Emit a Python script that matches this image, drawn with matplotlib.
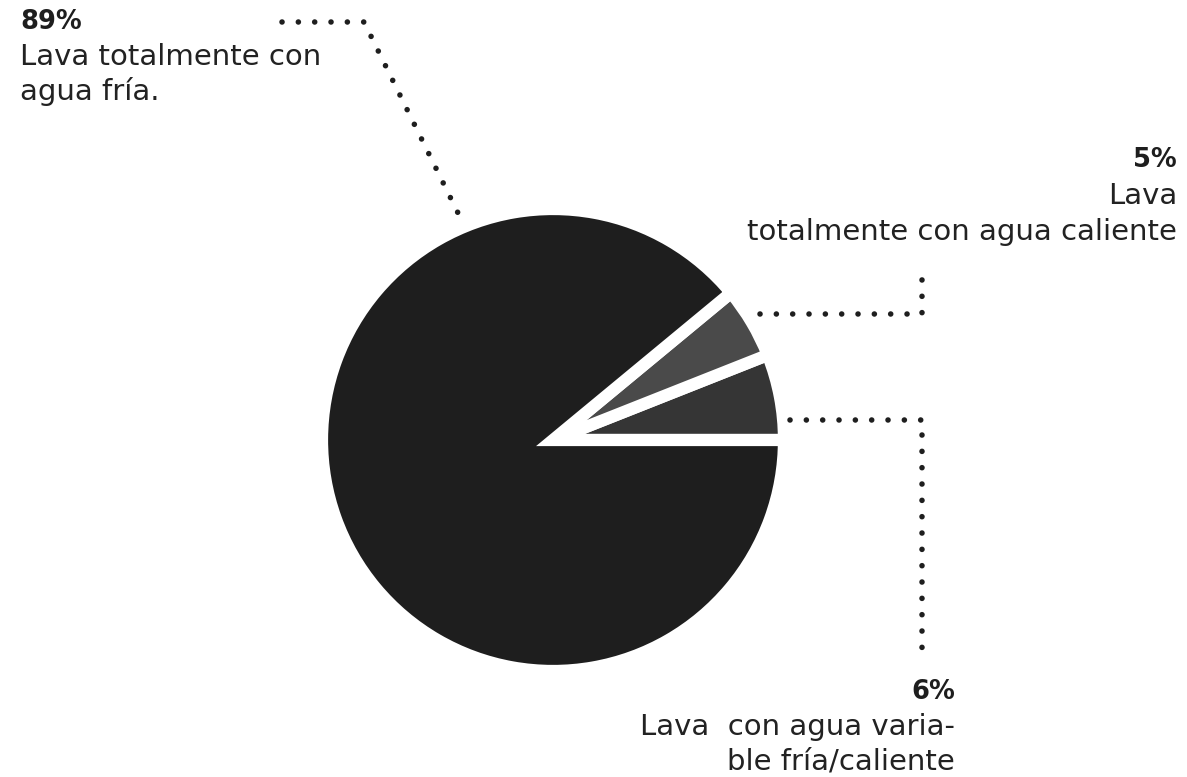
import matplotlib
matplotlib.use("Agg")
import matplotlib.pyplot as plt

W, H = 1187, 777

# datos (porcentaje de personas según cómo lava)
SHARES = [6, 5, 89]
DESCRIPTIONS = [
    ["Lava  con agua varia-", "ble fría/caliente"],
    ["Lava", "totalmente con agua caliente"],
    ["Lava totalmente con", "agua fría."],
]
COLORS = ["#353535", "#4a4a4a", "#1e1e1e"]

INK = "#1e1e1e"
TXT = "#222222"


def Y(y):
    # coordenadas de píxel medidas desde arriba
    return H - y


fig = plt.figure(figsize=(W / 100, H / 100), dpi=100)
ax = fig.add_axes([0, 0, 1, 1])

ax.pie(SHARES, colors=COLORS, startangle=0, counterclock=True,
       center=(553, Y(440)), radius=231,
       wedgeprops=dict(edgecolor="white", linewidth=8.8, joinstyle="miter"))
ax.set_xlim(0, W)
ax.set_ylim(0, H)
ax.set_aspect("equal")
ax.axis("off")

# líneas guía punteadas
leaders = [
    [(790, 420), (922, 420), (922, 648)],
    [(760, 314), (922, 314), (922, 268)],
    [(282, 22), (364, 22), (458, 213)],
]
for pts in leaders:
    xs = [p[0] for p in pts]
    ys = [Y(p[1]) for p in pts]
    ax.plot(xs, ys, color=INK, lw=4.0, linestyle=(0, (0.01, 2.93)),
            dash_capstyle="round", solid_joinstyle="round")

# etiquetas: (x, alineación, línea base del %, líneas base del texto)
label_pos = [
    (955, "right", 699, [735, 770]),
    (1177, "right", 167, [204, 240]),
    (20, "left", 29, [65, 100]),
]
for share, desc, (x, ha, yp, ys) in zip(SHARES, DESCRIPTIONS, label_pos):
    ax.text(x, Y(yp), "%d%%" % share, fontsize=18.5, fontweight="bold",
            color=INK, ha=ha, va="baseline", family="DejaVu Sans")
    for line, yb in zip(desc, ys):
        ax.text(x, Y(yb), line, fontsize=21, color=TXT, ha=ha,
                va="baseline", family="DejaVu Sans")

fig.savefig("out.png", dpi=100, facecolor="white")
